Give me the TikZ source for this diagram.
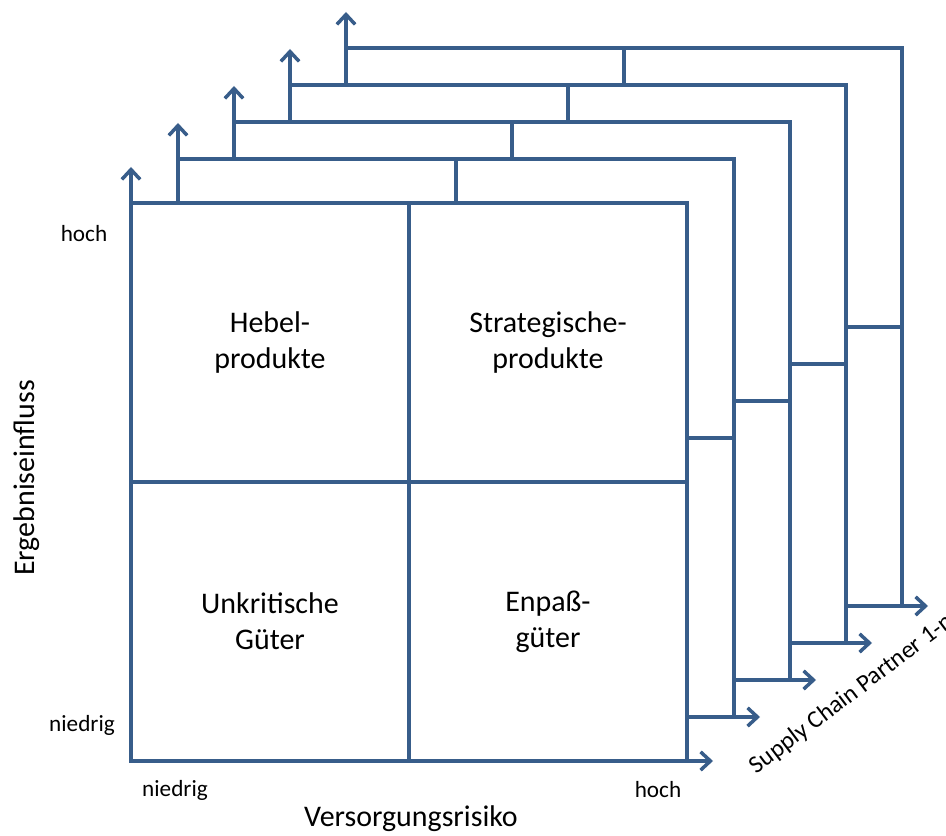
\documentclass[tikz,border=0pt]{standalone}
\usepackage{fontspec}
\setmainfont{Carlito}
\usetikzlibrary{arrows.meta}

\definecolor{linie}{RGB}{56,93,138}

\begin{document}
\begin{tikzpicture}[
  grid/.style={draw=linie, line width=2.5pt},
  >={Straight Barb[length=7pt,width=13pt]},
  quad/.style={align=center, font=\fontsize{21.3}{25.5}\selectfont},
  small/.style={font=\fontsize{16.5}{20}\selectfont}]

\useasboundingbox (-3.275,-1.85) rectangle (20.375,19.025);

%% front matrix
\draw[grid,<->] (0,14.85) -- (0,0) -- (14.55,0);
\draw[grid] (0,13.95) -- (13.9,13.95) -- (13.9,0);
\draw[grid] (6.95,0) -- (6.95,13.95);
\draw[grid] (0,6.975) -- (13.9,6.975);

%% partner layers behind
\begin{scope}[shift={(1.175,1.1)}]
\draw[grid,->] (0,12.85) -- (0,14.85);
\draw[grid] (0,13.95) -- (13.9,13.95) -- (13.9,0);
\draw[grid,->] (12.725,0) -- (14.55,0);
\draw[grid] (6.95,12.85) -- (6.95,13.95);
\draw[grid] (12.725,6.975) -- (13.9,6.975);
\end{scope}

\begin{scope}[shift={(2.575,2.025)}]
\draw[grid,->] (0,13.025) -- (0,14.85);
\draw[grid] (0,13.95) -- (13.9,13.95) -- (13.9,0);
\draw[grid,->] (12.5,0) -- (14.55,0);
\draw[grid] (6.95,13.025) -- (6.95,13.95);
\draw[grid] (12.5,6.975) -- (13.9,6.975);
\end{scope}

\begin{scope}[shift={(3.975,2.95)}]
\draw[grid,->] (0,13.025) -- (0,14.85);
\draw[grid] (0,13.95) -- (13.9,13.95) -- (13.9,0);
\draw[grid,->] (12.5,0) -- (14.55,0);
\draw[grid] (6.95,13.025) -- (6.95,13.95);
\draw[grid] (12.5,6.975) -- (13.9,6.975);
\end{scope}

\begin{scope}[shift={(5.375,3.875)}]
\draw[grid,->] (0,13.025) -- (0,14.85);
\draw[grid] (0,13.95) -- (13.9,13.95) -- (13.9,0);
\draw[grid,->] (12.5,0) -- (14.55,0);
\draw[grid] (6.95,13.025) -- (6.95,13.95);
\draw[grid] (12.5,6.975) -- (13.9,6.975);
\end{scope}

% quadrants
\node[quad] (v1) at (3.475,10.46) {Hebel-\\produkte};
\node[quad] (v2) at (10.425,10.46) {Strategische-\\produkte};
\node[quad] (v3) at (3.475,3.49) {Unkritische\\Güter};
\node[quad] (v4) at (10.425,3.49) {Enpaß-\\güter};

% labels
\node[quad,rotate=90] (v5) at (-2.6,7.075) {Ergebniseinfluss};
\node[quad] (v6) at (7.0,-1.45) {Versorgungsrisiko};
\node[small] (v7) at (-1.175,13.175) {hoch};
\node[small] (v8) at (-1.225,0.9) {niedrig};
\node[small] (v9) at (1.1,-0.725) {niedrig};
\node[small] (v10) at (13.175,-0.725) {hoch};
\node[small,font=\fontsize{17.5}{21}\selectfont,rotate=37,anchor=base west] (v11) at (15.55,-0.4) {Supply Chain Partner 1-n};

\end{tikzpicture}
\end{document}
